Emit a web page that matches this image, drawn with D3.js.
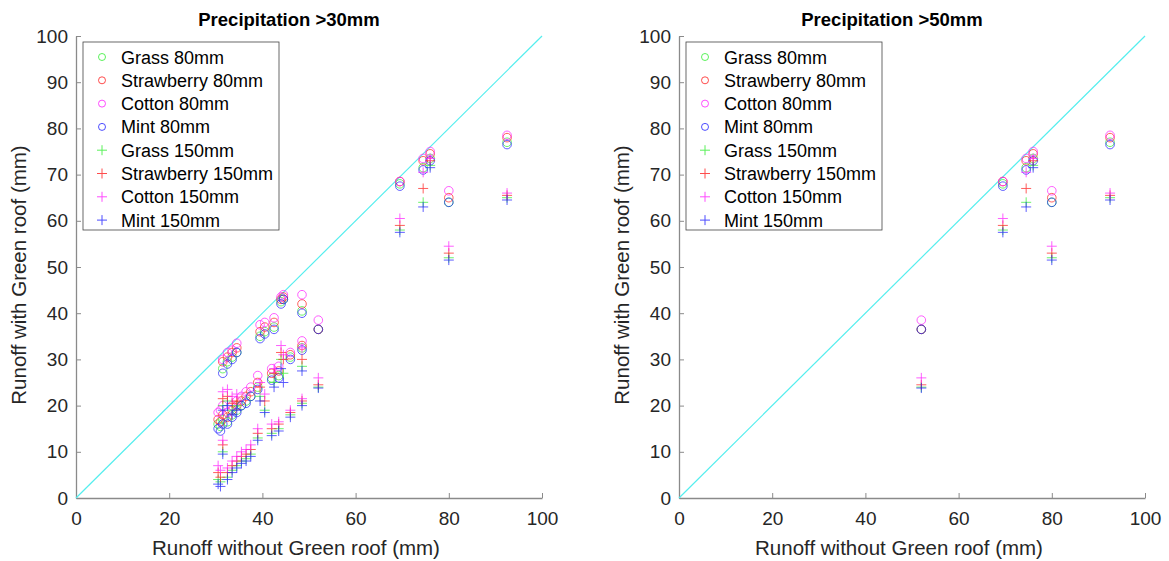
<!DOCTYPE html>
<html>
<head>
<meta charset="utf-8">
<script src="https://cdn.jsdelivr.net/npm/d3@7"></script>
<style>
  body { margin: 0; background: #fff; }
  svg { font-family: "Liberation Sans", Arial, sans-serif; }
</style>
</head>
<body>
<div id="chart"></div>
<script>
// runoff without green roof, one value per rain event (mm)
var eventRunoff = [30.5, 31.0, 31.5, 32.5, 33.5, 34.5, 35.5, 36.5, 37.5, 39.0, 42.0, 43.5, 46.0, 48.5, 52.0,
                   31.5, 32.5, 33.5, 34.5, 39.5, 40.5, 42.5, 44.0, 44.5, 48.5,
                   69.5, 74.5, 76.0, 80.0, 92.5];

// runoff with green roof, per crop and substrate depth
var grass80 = [16, 15.5, 17, 16.5, 18, 19, 20, 21, 22, 24, 26, 26.5, 30.5, 32.5, 36.5,
               28, 29.5, 30.5, 31.5, 35, 36, 37, 42.5, 43, 40.5,
               68, 71.5, 73.5, 64, 77];
var strawberry80 = [17, 16.5, 18, 17.5, 19, 20, 21, 22, 23, 25, 27, 27.5, 31, 33, 36.5,
                    29.5, 30.5, 31.5, 32.5, 36, 37, 38, 43, 43.5, 42,
                    68.5, 73, 74.5, 65, 78];
var cotton80 = [18.5, 19, 20, 18.5, 20, 21, 22, 23, 24, 26.5, 28, 28.5, 31.5, 34, 38.5,
                30, 31.5, 32, 33.5, 37.5, 38, 39, 43.5, 44, 44,
                68.5, 73.5, 75, 66.5, 78.5];
var mint80 = [15, 14.5, 16, 16, 17.5, 18.5, 20, 20.5, 22, 23.5, 25.5, 26, 30, 32, 36.5,
              27, 29, 30, 31.5, 34.5, 35.5, 36.5, 42, 43, 40,
              67.5, 71, 73, 64, 76.5];
var grass150 = [4, 3.5, 10, 4.5, 6, 7, 8, 8.5, 9.5, 13, 14, 15, 18, 20.5, 24,
                20, 21, 19, 20, 22, 19, 25, 30, 27, 28.5,
                58, 64, 72, 52, 65];
var strawberry150 = [5.5, 4.5, 11.5, 5.5, 7, 8, 9, 9.5, 10.5, 14, 15, 16, 18.5, 21, 24.5,
                     21.5, 22, 20.5, 21, 24, 21, 27, 31.5, 30, 30,
                     59, 67, 73, 53, 65.5];
var cotton150 = [7, 6, 12.5, 6.5, 8, 9, 10, 10.5, 11.5, 15, 16, 16.5, 19, 21.5, 26,
                 23, 23.5, 22, 22.5, 25, 22.5, 28, 33, 31, 32.5,
                 60.5, 70.5, 73.5, 54.5, 66];
var mint150 = [3, 2.5, 9.5, 4, 5.5, 6.5, 7.5, 8, 9, 12.5, 13.5, 14.5, 17.5, 20, 23.8,
               19, 20, 18, 19, 21, 18.5, 24, 28, 25, 27.5,
               57.5, 63, 71.5, 51.5, 64.5];

var seriesNames = ['Grass 80mm', 'Strawberry 80mm', 'Cotton 80mm', 'Mint 80mm',
                   'Grass 150mm', 'Strawberry 150mm', 'Cotton 150mm', 'Mint 150mm'];
var seriesValues = [grass80, strawberry80, cotton80, mint80, grass150, strawberry150, cotton150, mint150];
var seriesMarkers = ['o', 'o', 'o', 'o', '+', '+', '+', '+'];
var seriesColors = ['#33ee33', '#ff2020', '#ff20ff', '#2020ff', '#33ee33', '#ff2020', '#ff20ff', '#2020ff'];

var panelTitles = ['Precipitation >30mm', 'Precipitation >50mm'];
var panelThresholds = [30, 50];
var axisTicks = [0, 20, 40, 60, 80, 100];
var yTicks = [0, 10, 20, 30, 40, 50, 60, 70, 80, 90, 100];

var width = 1169, height = 561;
var svg = d3.select('#chart').append('svg')
    .attr('width', width)
    .attr('height', height);

var panelLeft = [76, 679];
var plotW = 466, plotTop = 36, plotBottom = 498;

panelTitles.forEach(function(title, p){
    var x = d3.scaleLinear().domain([0, 100]).range([panelLeft[p], panelLeft[p] + plotW]);
    var y = d3.scaleLinear().domain([0, 100]).range([plotBottom, plotTop]);
    var g = svg.append('g');

    // axes
    var xAxis = g.append('g')
        .attr('transform', 'translate(0,' + plotBottom + ')')
        .call(d3.axisBottom(x).tickValues(axisTicks).tickSizeInner(-5).tickSizeOuter(0).tickPadding(14));
    var yAxis = g.append('g')
        .attr('transform', 'translate(' + panelLeft[p] + ',0)')
        .call(d3.axisLeft(y).tickValues(yTicks).tickSizeInner(-5).tickSizeOuter(0).tickPadding(8));
    [xAxis, yAxis].forEach(function(a){
        a.select('.domain').attr('stroke', '#8a8a8a').attr('stroke-width', 1.3);
        a.selectAll('.tick line').attr('stroke', '#8a8a8a');
        a.selectAll('.tick text').attr('fill', '#262626').style('font-size', '19px');
    });

    // 1:1 line
    g.append('line')
        .attr('x1', x(0)).attr('y1', y(0))
        .attr('x2', x(100)).attr('y2', y(100))
        .attr('stroke', '#55eeee')
        .attr('stroke-width', 1.2);

    var idx = d3.range(eventRunoff.length).filter(function(i){
        return eventRunoff[i] > panelThresholds[p];
    });

    seriesValues.forEach(function(vals, s){
        var pts = g.append('g')
            .attr('stroke', seriesColors[s])
            .attr('stroke-width', 0.9)
            .attr('fill', 'none')
            .attr('opacity', 0.8);
        if(seriesMarkers[s] === 'o'){
            pts.selectAll('circle')
                .data(idx)
                .enter()
                .append('circle')
                .attr('cx', function(i){ return x(eventRunoff[i]); })
                .attr('cy', function(i){ return y(vals[i]); })
                .attr('r', 4.3);
        }else{
            pts.selectAll('path')
                .data(idx)
                .enter()
                .append('path')
                .attr('d', function(i){
                    var cx = x(eventRunoff[i]), cy = y(vals[i]);
                    return 'M' + (cx - 5) + ',' + cy + 'H' + (cx + 5) + 'M' + cx + ',' + (cy - 5) + 'V' + (cy + 5);
                });
        }
    });

    // title and labels
    g.append('text')
        .attr('x', x(50) - 20).attr('y', 26)
        .attr('text-anchor', 'middle')
        .attr('font-weight', 'bold')
        .style('font-size', '18.5px')
        .attr('fill', '#000')
        .text(title);
    g.append('text')
        .attr('x', x(50) - 13).attr('y', 555)
        .attr('text-anchor', 'middle')
        .style('font-size', '20.5px')
        .attr('fill', '#262626')
        .text('Runoff without Green roof (mm)');
    g.append('text')
        .attr('transform', 'translate(' + (panelLeft[p] - 50) + ',' + ((plotTop + plotBottom) / 2 + 8) + ') rotate(-90)')
        .attr('text-anchor', 'middle')
        .style('font-size', '20.5px')
        .attr('fill', '#262626')
        .text('Runoff with Green roof (mm)');

    // legend
    var lg = g.append('g').attr('transform', 'translate(' + (panelLeft[p] + 7) + ',42)');
    lg.append('rect')
        .attr('width', 196).attr('height', 188)
        .attr('fill', '#fff')
        .attr('stroke', '#444')
        .attr('stroke-width', 0.8);
    seriesNames.forEach(function(name, s){
        var ly = 15 + s * 23.3;
        if(seriesMarkers[s] === 'o'){
            lg.append('circle').attr('cx', 19).attr('cy', ly).attr('r', 3.5)
                .attr('fill', 'none').attr('stroke', seriesColors[s]).attr('opacity', 0.8);
        }else{
            lg.append('path').attr('d', 'M14,' + ly + 'H24M19,' + (ly - 5) + 'V' + (ly + 5))
                .attr('stroke', seriesColors[s]).attr('opacity', 0.8);
        }
        lg.append('text')
            .attr('x', 38).attr('y', ly + 6.5)
            .style('font-size', '18px')
            .attr('fill', '#000')
            .text(name);
    });
});
</script>
</body>
</html>
